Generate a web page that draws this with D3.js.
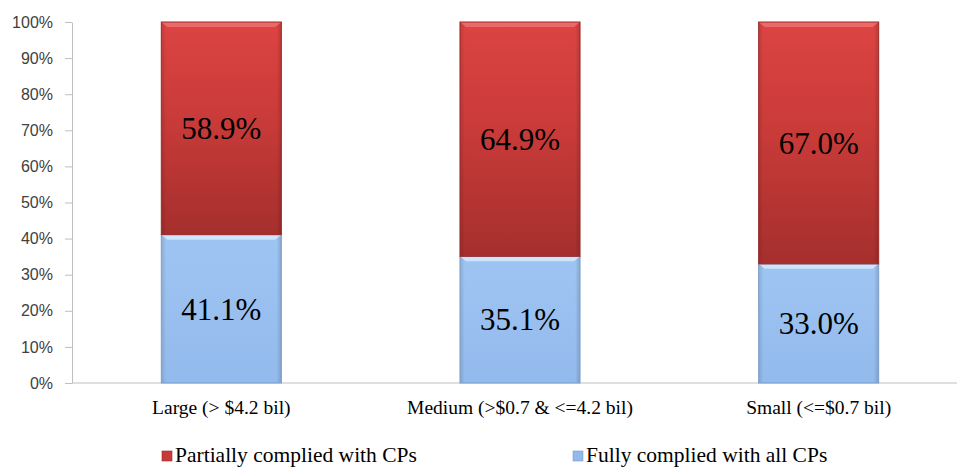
<!DOCTYPE html>
<html>
<head>
<meta charset="utf-8">
<script src="https://cdn.jsdelivr.net/npm/d3@7"></script>
<style>
  html, body { margin: 0; padding: 0; background: #ffffff; }
  svg { display: block; }
</style>
</head>
<body>
<svg id="chart" width="957" height="468"></svg>
<script>
// Company size groups and compliance shares (%)
const categories = ["Large (> $4.2 bil)", "Medium (>$0.7 & <=4.2 bil)", "Small (<=$0.7 bil)"];
const fullyComplied = [41.1, 35.1, 33.0];
const partiallyComplied = [58.9, 64.9, 67.0];
const yTicks = [0, 10, 20, 30, 40, 50, 60, 70, 80, 90, 100];
const legendLabels = ["Partially complied with CPs", "Fully complied with all CPs"];

const svg = d3.select("#chart");
const W = 957, H = 468;
const plot = { left: 72, right: 968, top: 22, bottom: 383 };

const x = d3.scaleBand().domain(categories).range([plot.left, plot.right]).paddingInner(0.598).paddingOuter(0.299);
const y = d3.scaleLinear().domain([0, 100]).range([plot.bottom, plot.top]);

const defs = svg.append("defs");
const redGrad = defs.append("linearGradient").attr("id", "redGrad").attr("x1", 0).attr("y1", 0).attr("x2", 0).attr("y2", 1);
redGrad.append("stop").attr("offset", "0%").attr("stop-color", "#dc4442");
redGrad.append("stop").attr("offset", "45%").attr("stop-color", "#c93b39");
redGrad.append("stop").attr("offset", "100%").attr("stop-color", "#a52f2d");
const blueGrad = defs.append("linearGradient").attr("id", "blueGrad").attr("x1", 0).attr("y1", 0).attr("x2", 0).attr("y2", 1);
blueGrad.append("stop").attr("offset", "0%").attr("stop-color", "#9ec5f2");
blueGrad.append("stop").attr("offset", "100%").attr("stop-color", "#93baec");
const sideShade = defs.append("linearGradient").attr("id", "sideShade").attr("x1", 0).attr("y1", 0).attr("x2", 1).attr("y2", 0);
sideShade.append("stop").attr("offset", "0%").attr("stop-color", "#000").attr("stop-opacity", 0.12);
sideShade.append("stop").attr("offset", "4%").attr("stop-color", "#000").attr("stop-opacity", 0);
sideShade.append("stop").attr("offset", "96%").attr("stop-color", "#000").attr("stop-opacity", 0);
sideShade.append("stop").attr("offset", "100%").attr("stop-color", "#000").attr("stop-opacity", 0.15);

// Y axis
const yAxis = d3.axisLeft(y).tickValues(yTicks).tickFormat(d => d + "%").tickSize(7).tickSizeOuter(0);
const yG = svg.append("g").attr("transform", `translate(${plot.left},0)`).call(yAxis);
yG.select(".domain").attr("stroke", "#bfbfbf");
yG.selectAll(".tick line").attr("stroke", "#bfbfbf");
yG.selectAll(".tick text").attr("fill", "#404040").attr("font-family", "'Liberation Sans', Arial, sans-serif")
  .attr("font-size", 16).attr("x", -19);

// X baseline and category labels
svg.append("line").attr("x1", plot.left).attr("x2", W).attr("y1", y(0)).attr("y2", y(0)).attr("stroke", "#bfbfbf");
svg.append("g").selectAll("text").data(categories).join("text")
  .attr("x", d => x(d) + x.bandwidth() / 2).attr("y", 414)
  .attr("text-anchor", "middle").attr("font-family", "'Liberation Serif', 'Times New Roman', serif")
  .attr("font-size", 19.5).attr("fill", "#000").text(d => d);

// Stacked bars
const rows = categories.map((c, i) => ({ cat: c, full: fullyComplied[i], partial: partiallyComplied[i] }));
const bars = svg.append("g").selectAll("g").data(rows).join("g");

function segment(g, y0, y1, fill, light, dark) {
  const bx = d => x(d.cat), bw = x.bandwidth();
  g.append("rect").attr("x", bx).attr("width", bw)
    .attr("y", d => y(y1(d))).attr("height", d => y(y0(d)) - y(y1(d))).attr("fill", fill);
  g.append("rect").attr("x", bx).attr("width", bw)
    .attr("y", d => y(y1(d))).attr("height", d => y(y0(d)) - y(y1(d))).attr("fill", "url(#sideShade)");
  // bevel highlight along the top edge
  g.append("path").attr("d", d => {
    const x0 = bx(d), x1 = x0 + bw, t = y(y1(d));
    return `M${x0},${t}L${x1},${t}L${x1 - 6},${t + 5}L${x0 + 6},${t + 5}Z`;
  }).attr("fill", light).attr("opacity", 0.8);
  g.append("rect").attr("x", bx).attr("width", bw)
    .attr("y", d => y(y1(d))).attr("height", d => y(y0(d)) - y(y1(d)))
    .attr("fill", "none").attr("stroke", dark).attr("stroke-width", 1);
}
segment(bars, d => 0, d => d.full, "url(#blueGrad)", "#d8ecff", "#7d9fc9");
segment(bars, d => d.full, d => d.full + d.partial, "url(#redGrad)", "#f07370", "#9a2b29");

// Value labels
const lblFont = "'Liberation Serif', 'Times New Roman', serif";
bars.append("text").attr("x", d => x(d.cat) + x.bandwidth() / 2)
  .attr("y", d => y(d.full / 2)).attr("dy", "0.35em").attr("text-anchor", "middle")
  .attr("font-family", lblFont).attr("font-size", 31).attr("fill", "#000").text(d => d.full.toFixed(1) + "%");
bars.append("text").attr("x", d => x(d.cat) + x.bandwidth() / 2)
  .attr("y", d => y(d.full + d.partial / 2)).attr("dy", "0.35em").attr("text-anchor", "middle")
  .attr("font-family", lblFont).attr("font-size", 31).attr("fill", "#000").text(d => d.partial.toFixed(1) + "%");

// Legend
const legendX = [162, 573];
const legendColors = ["#c93b39", "#92b9eb"];
const lg = svg.append("g").selectAll("g").data(legendLabels).join("g")
  .attr("transform", (d, i) => `translate(${legendX[i]},0)`);
lg.append("rect").attr("x", 0).attr("y", 451).attr("width", 10).attr("height", 10)
  .attr("fill", (d, i) => legendColors[i]).attr("stroke", (d, i) => i ? "#7d9fc9" : "#9a2b29").attr("stroke-width", 0.6);
lg.append("text").attr("x", 13).attr("y", 462).attr("font-family", lblFont).attr("font-size", 21.5)
  .attr("fill", "#000").text(d => d);
</script>
</body>
</html>
